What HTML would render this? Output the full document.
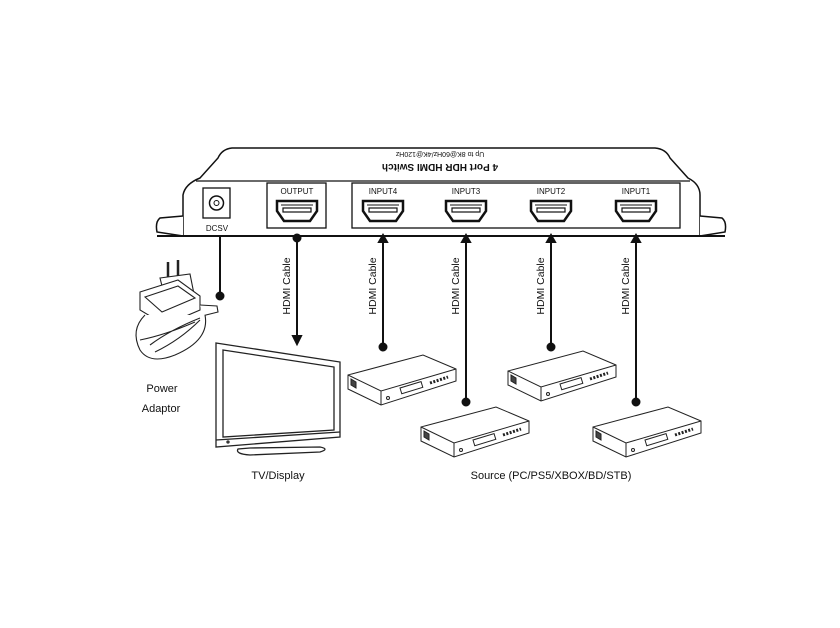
<!DOCTYPE html>
<html><head><meta charset="utf-8"><style>body{margin:0;background:#fff}svg{display:block}text{font-family:"Liberation Sans",Arial,sans-serif;fill:#111}</style></head><body>
<svg width="840" height="628" viewBox="0 0 840 628" xmlns="http://www.w3.org/2000/svg">
<defs>
<g id="port"><path d="M-20,-10 L20,-10 L20,0 L13,10 L-13,10 L-20,0 Z" fill="#fff" stroke="#111" stroke-width="2.5"/><rect x="-14" y="-3" width="28" height="4" fill="none" stroke="#111" stroke-width="1.2"/><path d="M-16,-6 H16" stroke="#111" stroke-width="1"/></g>
<g id="box" fill="#fff" stroke="#222" stroke-width="1">
<path d="M0,20 L75,0 L108,14 L108,26 L33,50 L0,34 Z"/>
<path d="M0,20 L33,36 L108,14 M33,36 L33,50"/>
<path d="M3,24 L3,30 L8,33 L8,27 Z" fill="#444"/>
<rect x="52" y="33" width="22" height="6" transform="rotate(-17 52 33)"/>
<path d="M82,28 l18,-6" stroke-dasharray="2,1.5" stroke-width="3"/>
<circle cx="40" cy="43" r="1.5"/>
</g>
</defs>
<!-- switch -->
<path d="M183,236 L183,195 Q185,184 200,178 L218,158 Q222,149 232,148 L655,148 Q666,149 670,158 L688,178 Q700,184 700,195 L700,236 Z" fill="#fff" stroke="#111" stroke-width="1.5"/>
<path d="M200,178 Q185,181 183,195 M688,178 Q700,181 700,195" fill="none"/>
<path d="M196,181 L690,181" stroke="#111" stroke-width="1.2"/>
<path d="M183,216 L160,218 Q155,222 157,232 L183,236 M700,216 L722,218 Q727,222 725,232 L700,236" fill="#fff" stroke="#111" stroke-width="1.5"/>
<path d="M157,236 L725,236" stroke="#111" stroke-width="2"/>
<text x="440" y="172" font-size="10" text-anchor="middle" transform="rotate(180 440 168)" font-weight="bold">4 Port HDR HDMI Switch</text>
<text x="440" y="158" font-size="7" text-anchor="middle" transform="rotate(180 440 155)">Up to 8K@60Hz/4K@120Hz</text>
<rect x="203" y="188" width="27" height="30" fill="#fff" stroke="#111" stroke-width="1.3"/>
<circle cx="216.5" cy="203" r="7" fill="none" stroke="#111" stroke-width="1.5"/><circle cx="216.5" cy="203" r="2.5" fill="none" stroke="#111"/>
<text x="217" y="231" font-size="8" text-anchor="middle">DCSV</text>
<rect x="267" y="183" width="59" height="45" fill="none" stroke="#111" stroke-width="1.3"/>
<rect x="352" y="183" width="328" height="45" fill="none" stroke="#111" stroke-width="1.3"/>
<g font-size="8" text-anchor="middle"><text x="297" y="194">OUTPUT</text><text x="383" y="194">INPUT4</text><text x="466" y="194">INPUT3</text><text x="551" y="194">INPUT2</text><text x="636" y="194">INPUT1</text></g>
<use href="#port" x="297" y="211"/><use href="#port" x="383" y="211"/><use href="#port" x="466" y="211"/><use href="#port" x="551" y="211"/><use href="#port" x="636" y="211"/>
<!-- connectors -->
<g stroke="#111" stroke-width="2" fill="#111">
<line x1="220" y1="236" x2="220" y2="296"/><circle cx="220" cy="296" r="3.5"/>
<line x1="297" y1="236" x2="297" y2="338"/><circle cx="297" cy="238" r="3.5"/><path d="M293,336 L301,336 L297,344 Z"/>
<line x1="383" y1="240" x2="383" y2="347"/><path d="M379,242 L387,242 L383,235 Z"/><circle cx="383" cy="347" r="3.5"/>
<line x1="466" y1="240" x2="466" y2="402"/><path d="M462,242 L470,242 L466,235 Z"/><circle cx="466" cy="402" r="3.5"/>
<line x1="551" y1="240" x2="551" y2="347"/><path d="M547,242 L555,242 L551,235 Z"/><circle cx="551" cy="347" r="3.5"/>
<line x1="636" y1="240" x2="636" y2="402"/><path d="M632,242 L640,242 L636,235 Z"/><circle cx="636" cy="402" r="3.5"/>
</g>
<g font-size="10.5" text-anchor="middle">
<text transform="translate(290,286) rotate(-90)">HDMI Cable</text>
<text transform="translate(376,286) rotate(-90)">HDMI Cable</text>
<text transform="translate(459,286) rotate(-90)">HDMI Cable</text>
<text transform="translate(544,286) rotate(-90)">HDMI Cable</text>
<text transform="translate(629,286) rotate(-90)">HDMI Cable</text>
</g>
<!-- TV -->
<g fill="#fff" stroke="#222" stroke-width="1.3">
<path d="M216,343 L340,362 L340,437 L216,447 Z"/>
<path d="M223,350 L334,367 L334,430 L223,437 Z"/>
<path d="M216,440 L340,432"/>
<path d="M238,449 Q235,454 250,455 L320,452 Q330,449 320,447 L250,448 Z"/>
<circle cx="228" cy="442" r="1"/>
</g>
<text x="278" y="479" font-size="11" text-anchor="middle">TV/Display</text>
<!-- power adaptor -->
<g fill="#fff" stroke="#222" stroke-width="1.1">
<path d="M168,262 L168,278 M178,260 L178,276" stroke-width="2.5"/>
<path d="M160,278 L190,274 L194,294 L165,298 Z"/>
<path d="M140,292 L178,280 L200,296 L200,310 L165,325 L140,310 Z"/>
<path d="M145,297 L178,286 L195,298 L162,312 Z"/>
<path d="M200,305 L217,306 L218,312 L202,316"/>
<path d="M145,315 Q130,330 140,350 Q150,365 175,355 Q210,340 205,315 M150,345 Q170,330 200,318 M155,352 Q180,340 200,320 M140,340 Q165,335 195,322"/>
</g>
<text x="162" y="392" font-size="11" text-anchor="middle">Power</text>
<text x="161" y="412" font-size="11" text-anchor="middle">Adaptor</text>
<!-- sources -->
<use href="#box" x="348" y="355"/>
<use href="#box" x="421" y="407"/>
<use href="#box" x="508" y="351"/>
<use href="#box" x="593" y="407"/>
<text x="551" y="479" font-size="11" text-anchor="middle">Source (PC/PS5/XBOX/BD/STB)</text>
</svg>
</body></html>
